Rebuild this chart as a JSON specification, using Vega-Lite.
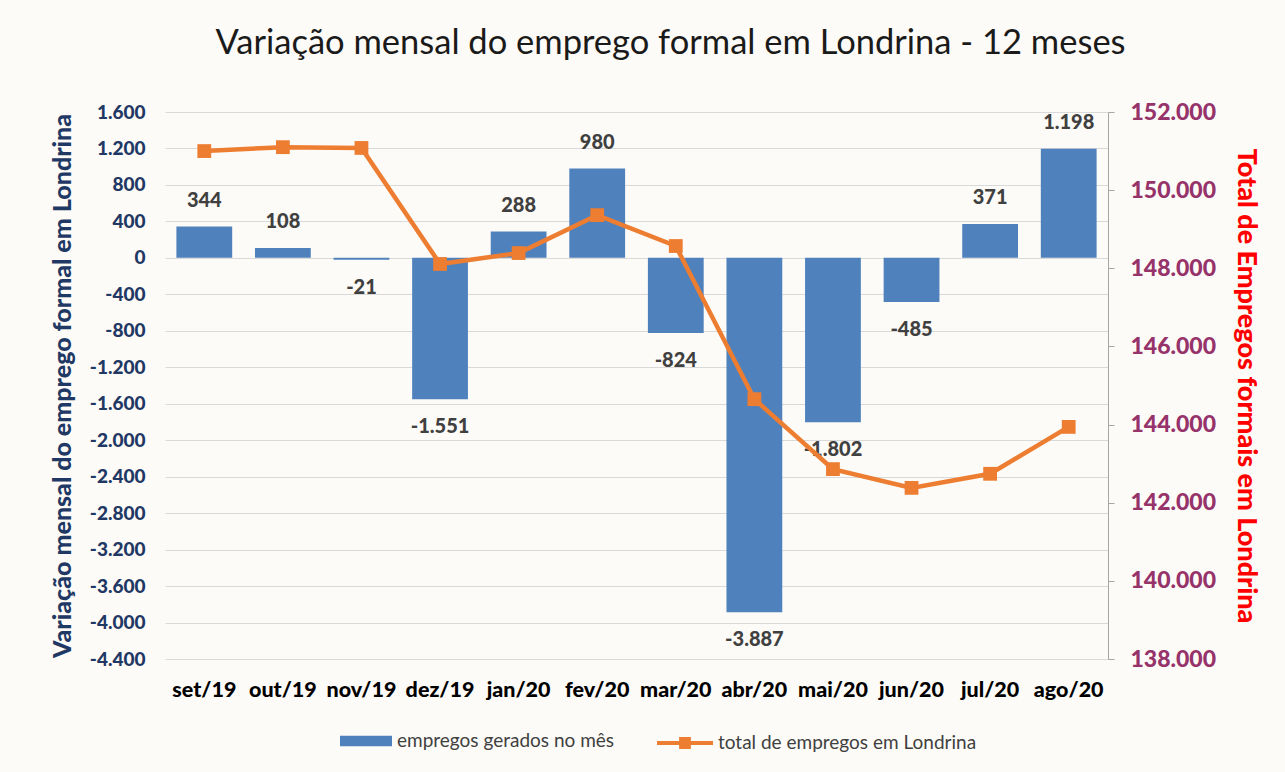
{
  "$schema": "https://vega.github.io/schema/vega-lite/v6.json",
  "width": 943,
  "height": 547,
  "autosize": "none",
  "padding": {"left": 165, "top": 112, "right": 177, "bottom": 113},
  "background": "#fdfbf7",
  "config": {
    "locale": {"number": {"decimal": ",", "thousands": ".", "grouping": [3], "currency": ["R$", ""], "minus": "-"}},
    "view": {"stroke": null},
    "font": "Lato"
  },
  "title": {
    "text": "Variação mensal do emprego formal em Londrina - 12 meses",
    "font": "Lato",
    "fontSize": 34.5,
    "fontWeight": "normal",
    "color": "#1a1a1a",
    "anchor": "middle",
    "dx": 34,
    "offset": 40
  },
  "data": {
    "values": [
      {"m": "set/19", "v": 344, "t": 151000},
      {"m": "out/19", "v": 108, "t": 151100},
      {"m": "nov/19", "v": -21, "t": 151080},
      {"m": "dez/19", "v": -1551, "t": 148110},
      {"m": "jan/20", "v": 288, "t": 148390},
      {"m": "fev/20", "v": 980, "t": 149360},
      {"m": "mar/20", "v": -824, "t": 148570},
      {"m": "abr/20", "v": -3887, "t": 144650},
      {"m": "mai/20", "v": -1802, "t": 142860},
      {"m": "jun/20", "v": -485, "t": 142380},
      {"m": "jul/20", "v": 371, "t": 142740},
      {"m": "ago/20", "v": 1198, "t": 143940}
    ]
  },
  "encoding": {
    "x": {
      "field": "m",
      "type": "nominal",
      "sort": null,
      "scale": {"paddingInner": 0.29, "paddingOuter": 0.145},
      "axis": {
        "title": null,
        "labelAngle": 0,
        "labelFont": "Lato",
        "labelFontSize": 21.5,
        "labelFontWeight": 900,
        "labelColor": "#000000",
        "ticks": false,
        "domain": false,
        "labelPadding": 20
      }
    }
  },
  "layer": [
    {
      "encoding": {
        "y": {
          "field": "v",
          "type": "quantitative",
          "scale": {"domain": [-4400, 1600], "nice": false},
          "axis": {
            "values": [-4400, -4000, -3600, -3200, -2800, -2400, -2000, -1600, -1200, -800, -400, 0, 400, 800, 1200, 1600],
            "format": ",.0f",
            "labelOverlap": false,
            "title": "Variação mensal do emprego formal em Londrina",
            "titleFont": "Lato",
            "titleFontSize": 25,
            "titleFontWeight": 900,
            "titleColor": "#1f3864",
            "titlePadding": 14,
            "labelFont": "Lato",
            "labelFontSize": 19,
            "labelFontWeight": 900,
            "labelColor": "#1f3864",
            "labelPadding": 20,
            "ticks": false,
            "domain": false,
            "grid": true,
            "gridColor": "#d9d9d9",
            "gridWidth": 1.2
          }
        }
      },
      "layer": [
        {
          "mark": {"type": "bar"},
          "encoding": {
            "color": {
              "datum": "empregos gerados no mês",
              "scale": {"range": ["#4f81bd"]},
              "legend": {
                "orient": "none",
                "legendX": 175,
                "legendY": 603,
                "title": null,
                "symbolType": "M-1,-0.2H1V0.2H-1Z",
                "symbolSize": 2704,
                "symbolStrokeWidth": 0,
                "labelFont": "Lato",
                "labelFontSize": 19,
                "labelColor": "#404040",
                "labelOffset": 5,
                "labelLimit": 400
              }
            }
          }
        },
        {
          "transform": [{"filter": "datum.v >= 0"}],
          "mark": {"type": "text", "baseline": "middle", "dy": -26, "font": "Lato", "fontSize": 20, "fontWeight": 900, "color": "#404040"},
          "encoding": {
            "text": {"field": "v", "type": "quantitative", "format": ",.0f"}
          }
        },
        {
          "transform": [{"filter": "datum.v < 0"}],
          "mark": {"type": "text", "baseline": "middle", "dy": 28, "font": "Lato", "fontSize": 20, "fontWeight": 900, "color": "#404040"},
          "encoding": {
            "text": {"field": "v", "type": "quantitative", "format": ",.0f"}
          }
        }
      ]
    },
    {
      "encoding": {
        "y": {
          "field": "t",
          "type": "quantitative",
          "scale": {"domain": [138000, 152000], "nice": false, "zero": false},
          "axis": {
            "orient": "right",
            "values": [138000, 140000, 142000, 144000, 146000, 148000, 150000, 152000],
            "format": ",.0f",
            "labelOverlap": false,
            "title": "Total de Empregos formais em Londrina",
            "titleFont": "Lato",
            "titleFontSize": 27,
            "titleFontWeight": 900,
            "titleColor": "#ff0000",
            "titlePadding": 16,
            "labelFont": "Lato",
            "labelFontSize": 23,
            "labelFontWeight": 900,
            "labelColor": "#96336a",
            "labelPadding": 16,
            "ticks": true,
            "tickSize": 6,
            "tickColor": "#a6a6a6",
            "domain": true,
            "domainColor": "#a6a6a6",
            "grid": false
          }
        }
      },
      "layer": [
        {
          "mark": {"type": "line", "strokeWidth": 4.5},
          "encoding": {
            "stroke": {
              "datum": "total de empregos em Londrina",
              "scale": {"range": ["#ed7d31"]},
              "legend": {
                "orient": "none",
                "legendX": 492,
                "legendY": 603,
                "title": null,
                "symbolType": "M-1,-0.07H1V0.07H-1Z M-0.21,-0.21H0.21V0.21H-0.21Z",
                "symbolSize": 3136,
                "symbolStrokeWidth": 0,
                "symbolFillColor": "#ed7d31",
                "labelFont": "Lato",
                "labelFontSize": 19,
                "labelColor": "#404040",
                "labelOffset": 5,
                "labelLimit": 400,
                "encode": {"symbols": {"update": {"fill": {"value": "#ed7d31"}, "strokeWidth": {"value": 0}}}}
              }
            }
          }
        },
        {
          "mark": {"type": "point", "shape": "square", "filled": true, "size": 190, "color": "#ed7d31", "opacity": 1}
        }
      ]
    }
  ],
  "resolve": {"scale": {"y": "independent", "color": "independent"}}
}
